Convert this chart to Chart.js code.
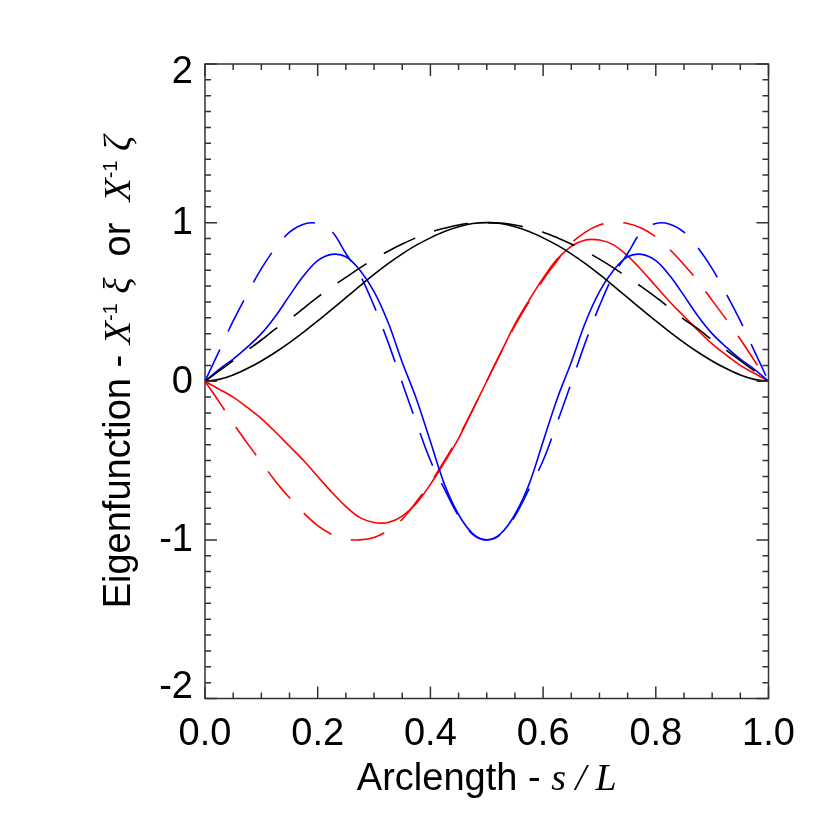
<!DOCTYPE html>
<html>
<head>
  <meta charset="UTF-8">
  <title>Eigenfunction vs arclength</title>
  <script src="https://cdn.jsdelivr.net/npm/chart.js"></script>
  <style>
    html, body { margin: 0; padding: 0; background: #fff; }
  </style>
</head>
<body>
  <canvas id="eigenChart" width="830" height="830"></canvas>

  <script>
    // arclength s/L
    const arclength = [0, 0.025, 0.05, 0.075, 0.1, 0.125, 0.15, 0.175, 0.2, 0.225, 0.25,
      0.275, 0.3, 0.325, 0.35, 0.375, 0.4, 0.425, 0.45, 0.475, 0.5,
      0.525, 0.55, 0.575, 0.6, 0.625, 0.65, 0.675, 0.7, 0.725, 0.75,
      0.775, 0.8, 0.825, 0.85, 0.875, 0.9, 0.925, 0.95, 0.975, 1.0];

    const blackSolid = [0, 0.012, 0.04, 0.08, 0.128, 0.183, 0.244, 0.31, 0.38, 0.453, 0.527,
      0.601, 0.673, 0.741, 0.803, 0.858, 0.904, 0.944, 0.974, 0.994, 1.0,
      0.994, 0.974, 0.944, 0.904, 0.858, 0.803, 0.741, 0.673, 0.601, 0.527,
      0.453, 0.38, 0.31, 0.244, 0.183, 0.128, 0.08, 0.04, 0.012, 0];

    const blackDashed = [0, 0.065, 0.13, 0.195, 0.26, 0.33, 0.39, 0.46, 0.53, 0.595, 0.655,
      0.715, 0.77, 0.82, 0.865, 0.905, 0.94, 0.965, 0.985, 0.997, 1.0,
      0.997, 0.985, 0.965, 0.94, 0.905, 0.865, 0.82, 0.77, 0.715, 0.655,
      0.595, 0.53, 0.46, 0.39, 0.33, 0.26, 0.195, 0.13, 0.065, 0];

    const blueSolid = [0, 0.075, 0.14, 0.215, 0.30, 0.41, 0.54, 0.665, 0.76, 0.80, 0.785,
      0.70, 0.565, 0.37, 0.12, -0.11, -0.38, -0.65, -0.84, -0.96, -1.0,
      -0.96, -0.84, -0.65, -0.38, -0.11, 0.12, 0.37, 0.565, 0.70, 0.785,
      0.80, 0.76, 0.665, 0.54, 0.41, 0.30, 0.215, 0.14, 0.075, 0];

    const blueDashed = [0, 0.19, 0.38, 0.55, 0.71, 0.84, 0.94, 0.99, 0.995, 0.945, 0.805,
      0.67, 0.475, 0.245, -0.01, -0.26, -0.50, -0.68, -0.85, -0.965, -1.0,
      -0.965, -0.85, -0.68, -0.50, -0.26, -0.01, 0.245, 0.475, 0.67, 0.805,
      0.945, 0.995, 0.99, 0.94, 0.84, 0.71, 0.55, 0.38, 0.19, 0];

    const redSolid = [0, -0.05, -0.10, -0.165, -0.235, -0.32, -0.41, -0.50, -0.60, -0.70, -0.79,
      -0.86, -0.89, -0.89, -0.85, -0.77, -0.65, -0.51, -0.36, -0.18, 0,
      0.18, 0.36, 0.51, 0.65, 0.77, 0.85, 0.89, 0.89, 0.86, 0.79,
      0.70, 0.60, 0.50, 0.41, 0.32, 0.235, 0.165, 0.10, 0.05, 0];

    const redDashed = [0, -0.13, -0.265, -0.39, -0.51, -0.63, -0.735, -0.83, -0.91, -0.965, -0.995,
      -1.0, -0.985, -0.94, -0.87, -0.76, -0.64, -0.50, -0.35, -0.18, 0,
      0.18, 0.35, 0.50, 0.64, 0.76, 0.87, 0.94, 0.985, 1.0, 0.995,
      0.965, 0.91, 0.83, 0.735, 0.63, 0.51, 0.39, 0.265, 0.13, 0];

    const xTicks = [0, 0.2, 0.4, 0.6, 0.8, 1.0];
    const yTicks = [-2, -1, 0, 1, 2];

    const SANS = '"Liberation Sans", Arial, sans-serif';
    const SERIF = '"Liberation Serif", "Times New Roman", serif';

    function toPoints(vals) {
      return vals.map((v, i) => ({ x: arclength[i], y: v }));
    }

    function line(vals, color, dashed) {
      return {
        data: toPoints(vals),
        borderColor: color,
        borderWidth: 1.6,
        borderDash: dashed ? [35, 20] : [],
        pointRadius: 0,
        tension: 0.35,
        fill: false,
      };
    }

    // draws text pieces with different fonts, left to right
    function drawRuns(ctx, runs, x, y) {
      let cx = x;
      runs.forEach(r => {
        ctx.font = r.font;
        ctx.fillText(r.text, cx, y + (r.dy || 0));
        cx += ctx.measureText(r.text).width;
      });
    }
    function runsWidth(ctx, runs) {
      let w = 0;
      runs.forEach(r => { ctx.font = r.font; w += ctx.measureText(r.text).width; });
      return w;
    }

    const axisDecor = {
      id: 'axisDecor',
      afterDraw(chart) {
        const ctx = chart.ctx;
        const xs = chart.scales.x, ys = chart.scales.y;
        const a = chart.chartArea;
        ctx.save();

        // frame + inward ticks on all four sides
        ctx.strokeStyle = '#333';
        ctx.lineWidth = 1.5;
        ctx.strokeRect(a.left, a.top, a.right - a.left, a.bottom - a.top);
        ctx.beginPath();
        for (let i = 0; i <= 20; i++) {
          const px = xs.getPixelForValue(i * 0.05);
          const len = (i % 4 === 0) ? 12 : 6;
          ctx.moveTo(px, a.bottom); ctx.lineTo(px, a.bottom - len);
          ctx.moveTo(px, a.top); ctx.lineTo(px, a.top + len);
        }
        for (let i = 0; i <= 40; i++) {
          const py = ys.getPixelForValue(-2 + i * 0.1);
          const len = (i % 10 === 0) ? 12 : 6;
          ctx.moveTo(a.left, py); ctx.lineTo(a.left + len, py);
          ctx.moveTo(a.right, py); ctx.lineTo(a.right - len, py);
        }
        ctx.stroke();

        // y tick labels (end labels sit a bit inside the frame)
        ctx.fillStyle = '#000';
        ctx.font = '38px ' + SANS;
        ctx.textAlign = 'right';
        ctx.textBaseline = 'middle';
        yTicks.forEach(v => {
          let off = 1;
          if (v === 2) off = 9;
          if (v === -2) off = -11;
          ctx.fillText(String(v), a.left - 12, ys.getPixelForValue(v) + off);
        });

        // x title
        ctx.textAlign = 'left';
        ctx.textBaseline = 'alphabetic';
        const xRuns = [
          { text: 'Arclength - ', font: '38px ' + SANS },
          { text: 's / L', font: 'italic 38px ' + SERIF },
        ];
        const xw = runsWidth(ctx, xRuns);
        drawRuns(ctx, xRuns, (a.left + a.right) / 2 - xw / 2, 790);

        // y title, rotated
        const yRuns = [
          { text: 'Eigenfunction - ', font: '38px ' + SANS },
          { text: 'X', font: 'italic 38px ' + SERIF },
          { text: '-1', font: '20px ' + SANS, dy: -13 },
          { text: ' ξ', font: 'italic 38px ' + SERIF },
          { text: '  or  ', font: '38px ' + SANS },
          { text: 'X', font: 'italic 38px ' + SERIF },
          { text: '-1', font: '20px ' + SANS, dy: -13 },
          { text: ' ζ', font: 'italic 38px ' + SERIF },
        ];
        const yw = runsWidth(ctx, yRuns);
        ctx.translate(130, 372 + yw / 2);
        ctx.rotate(-Math.PI / 2);
        drawRuns(ctx, yRuns, 0, 0);

        ctx.restore();
      }
    };

    const ctx = document.getElementById('eigenChart').getContext('2d');
    const eigenChart = new Chart(ctx, {
      type: 'line',
      data: {
        datasets: [
          line(blackSolid, '#000000', false),
          line(blackDashed, '#000000', true),
          line(blueSolid, '#0000ff', false),
          line(blueDashed, '#0000ff', true),
          line(redSolid, '#ff0000', false),
          line(redDashed, '#ff0000', true),
        ],
      },
      options: {
        responsive: false,
        animation: false,
        devicePixelRatio: 1,
        layout: { padding: { top: 64, right: 61.5, left: 0, bottom: 0 } },
        plugins: {
          legend: { display: false },
          tooltip: { enabled: false },
        },
        scales: {
          x: {
            type: 'linear',
            min: 0,
            max: 1,
            grid: { display: false, drawTicks: false },
            border: { display: false },
            afterBuildTicks: (scale) => { scale.ticks = xTicks.map(v => ({ value: v })); },
            ticks: {
              autoSkip: false,
              maxRotation: 0,
              padding: 13,
              color: '#000',
              font: { family: SANS, size: 38 },
              callback: (v) => Number(v).toFixed(1),
            },
            afterFit: (scale) => { scale.height = 131.5; },
          },
          y: {
            type: 'linear',
            min: -2,
            max: 2,
            grid: { display: false, drawTicks: false },
            border: { display: false },
            ticks: { display: false },
            afterFit: (scale) => { scale.width = 205; },
          },
        },
      },
      plugins: [axisDecor],
    });
  </script>
</body>
</html>
